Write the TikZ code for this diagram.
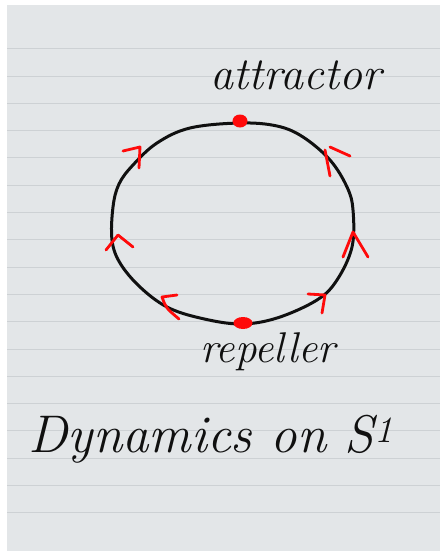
\documentclass[tikz,border=0pt]{standalone}
\usepackage{tikz}
\usetikzlibrary{positioning,shapes.geometric}
\definecolor{paper}{HTML}{E3E6E8}
\definecolor{rule}{HTML}{CDD1D4}
\definecolor{ink}{HTML}{101010}
\definecolor{mark}{HTML}{FF0A0A}
\tikzset{
  sheet/.style={fill=paper,draw=none},
  ruled/.style={draw=rule,line width=0.8pt},
  orbit/.style={draw=ink,line width=3pt,line join=round},
  fixpt/.style={ellipse,fill=mark,inner sep=0pt,minimum width=#1,minimum height=13pt},
  fixpt/.default={15pt},
  flow/.style={draw=mark,line width=2.8pt,line cap=round,line join=round},
  hand/.style={font=\itshape\fontsize{#1}{#1}\selectfont,inner sep=0pt,text=ink},
}
\begin{document}
\begin{tikzpicture}[x=1pt,y=-1pt]
 \useasboundingbox[fill=white] (0,0) rectangle (440,551);
 \fill[sheet] (7,5) rectangle (440,551);
 \foreach \k in {0,...,17}
   \draw[ruled] (7,48.6+27.3*\k) -- (440,48.6+27.3*\k);
 % the circle S^1
 \draw[orbit] plot[smooth cycle,tension=0.6] coordinates {(240,123) (277,126) (303,137) (330,160) (347,187) (353,210) (352,247) (337,280) (317,300) (277,318) (240,324) (200,318) (167,307) (140,287) (120,263) (112,240) (113,207) (119,184) (133,165) (157,143) (190,128)};
 \node[fixpt] (att) at (240,121) {};
 \node[fixpt=19pt,minimum height=12pt] (rep) at (243,323) {};
 \node[hand=46,above=24pt of att,xshift=56pt] (attlbl) {attractor};
 \node[hand=43,below=3pt of rep,xshift=25pt] (replbl) {repeller};
 % flow towards the attractor
 \draw[flow] (123,151) -- (140,147) -- (139,168);
 \draw[flow] (330,147) -- (350,156);
 \draw[flow] (325,150) -- (330,176);
 \draw[flow] (343,257) -- (353,232) -- (368,257);
 \draw[flow] (308,294) -- (325,295) -- (322,313);
 \draw[flow] (177,295) -- (162,297) .. controls (166,308) .. (179,319);
 \draw[flow] (106,250) -- (118,235) -- (133,247);
 \node[hand=53,anchor=base] (title) at (211,452) {Dynamics on S\textsuperscript{1}};
\end{tikzpicture}
\end{document}
